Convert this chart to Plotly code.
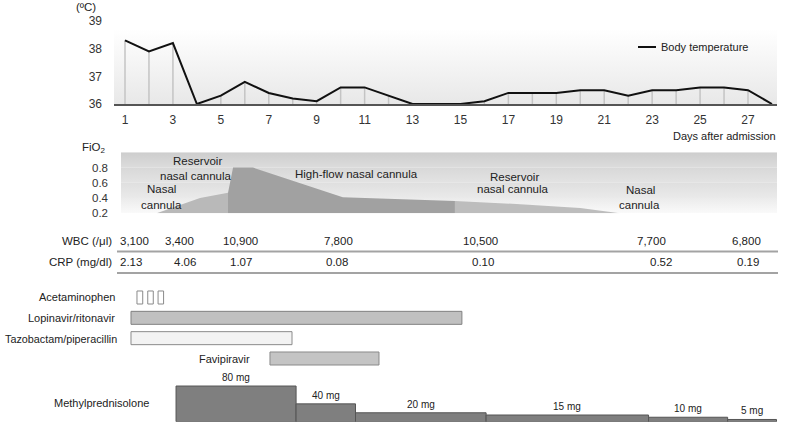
import plotly.graph_objects as go

W, H = 786, 423
FONT = "Liberation Sans, Arial, sans-serif"

# ---------------- data ----------------
days = list(range(1, 29))
temp = [38.3, 37.9, 38.2, 36.0, 36.3, 36.8, 36.4, 36.2, 36.1, 36.6, 36.6, 36.3, 36.0, 36.0,
        36.0, 36.1, 36.4, 36.4, 36.4, 36.5, 36.5, 36.3, 36.5, 36.5, 36.6, 36.6, 36.5, 36.0]
day_ticks = list(range(1, 28, 2))
temp_ticks = [36, 37, 38, 39]

# oxygen support: (day, FiO2) outlines
nasal_day = [2.32, 4.13, 5.30, 5.30]
nasal_fio2 = [0.20, 0.40, 0.47, 0.20]
hfnc_day = [5.30, 5.30, 5.51, 6.34, 10.09, 14.77, 14.77]
hfnc_fio2 = [0.20, 0.47, 0.80, 0.80, 0.41, 0.36, 0.20]
res_day = [14.77, 14.77, 17.5, 20.0, 21.65]
res_fio2 = [0.20, 0.36, 0.32, 0.27, 0.20]
fio2_ticks = [0.2, 0.4, 0.6, 0.8]

# labs
wbc_day = [1.40, 3.29, 5.80, 9.89, 15.85, 22.99, 26.92]
wbc = [3100, 3400, 10900, 7800, 10500, 7700, 6800]
crp_day = [1.23, 3.50, 5.84, 9.84, 15.94, 23.36, 26.98]
crp = [2.13, 4.06, 1.07, 0.08, 0.10, 0.52, 0.19]

# drugs (start day, end day)
acet_start = [1.50, 1.95, 2.38]
acet_end = [1.74, 2.18, 2.61]
lpv_start, lpv_end = [1.25], [15.06]
tazo_start, tazo_end = [1.25], [7.97]
favi_start, favi_end = [7.05], [11.60]
drug_names = ["Acetaminophen", "Lopinavir/ritonavir", "Tazobactam/piperacillin", "Favipiravir"]

# methylprednisolone steps
mp_start = [3.13, 8.14, 10.62, 16.07, 22.85, 26.15]
mp_end = [8.14, 10.62, 16.07, 22.85, 26.15, 28.19]
mp_dose = [80, 40, 20, 15, 10, 5]

# ---------------- geometry helpers ----------------
K = 623 / 26.0                      # pixels per day
def day_at(px):
    return 1 + (px - 125) / K
def xp(px):
    return px / W
def yp(py):
    return 1 - py / H

fig = go.Figure()

# ---- temperature panel background (gradient) ----
fig.add_trace(go.Scatter(
    x=[day_at(114), day_at(777), day_at(777), day_at(114), day_at(114)],
    y=[36, 36, 38.7, 38.7, 36], fill="toself", mode="none",
    fillgradient=dict(type="vertical", start=36, stop=38.7,
                      colorscale=[[0, "#e8e8e8"], [1, "#ffffff"]]),
    hoverinfo="skip", showlegend=False, xaxis="x", yaxis="y"))

# drop lines
dx, dy = [], []
for d, t in zip(days, temp):
    dx += [d, d, None]
    dy += [36, t, None]
fig.add_trace(go.Scatter(x=dx, y=dy, mode="lines", line=dict(color="#c4c4c4", width=1.5),
                         hoverinfo="skip", showlegend=False, xaxis="x", yaxis="y"))
fig.add_trace(go.Scatter(x=days, y=temp, mode="lines", name="Body temperature",
                         line=dict(color="#111111", width=2), showlegend=False,
                         xaxis="x", yaxis="y", cliponaxis=False))

# ---- FiO2 panel background bands ----
bands = [(0.8, 1.0, "#dcdcdc", "#cdcdcd"), (0.6, 0.8, "#e3e3e3", "#d8d8d8"),
         (0.4, 0.6, "#eaeaea", "#dfdfdf"), (0.2, 0.4, "#fafafa", "#ebebeb")]
x0b, x1b = day_at(121), day_at(777)
for lo, hi, cb, ct in bands:
    fig.add_trace(go.Scatter(
        x=[x0b, x1b, x1b, x0b, x0b], y=[lo, lo, hi, hi, lo], fill="toself", mode="none",
        fillgradient=dict(type="vertical", start=lo, stop=hi, colorscale=[[0, cb], [1, ct]]),
        hoverinfo="skip", showlegend=False, xaxis="x2", yaxis="y2"))

for xs, ys, col in [(nasal_day, nasal_fio2, "#b9b9b9"),
                    (hfnc_day, hfnc_fio2, "#a1a1a1"),
                    (res_day, res_fio2, "#bdbdbd")]:
    fig.add_trace(go.Scatter(x=xs + [xs[0]], y=ys + [ys[0]], fill="toself", mode="none",
                             fillcolor=col, hoverinfo="skip", showlegend=False,
                             xaxis="x2", yaxis="y2"))

# ---- drug bars ----
def hbar(starts, ends, row, fill, line):
    fig.add_trace(go.Bar(
        orientation="h", base=starts, x=[e - s for s, e in zip(starts, ends)],
        y=[row] * len(starts), width=0.64, marker=dict(color=fill, line=dict(color=line, width=1)),
        hoverinfo="skip", showlegend=False, xaxis="x2", yaxis="y3"))

hbar(acet_start, acet_end, 0, "#ffffff", "#8a8a8a")
hbar(lpv_start, lpv_end, 1, "#c0c0c0", "#808080")
hbar(tazo_start, tazo_end, 2, "#f3f3f3", "#8a8a8a")
hbar(favi_start, favi_end, 3, "#c4c4c4", "#8a8a8a")

# ---- methylprednisolone steps ----
fig.add_trace(go.Bar(
    x=[(s + e) / 2 for s, e in zip(mp_start, mp_end)], y=mp_dose,
    width=[e - s for s, e in zip(mp_start, mp_end)],
    marker=dict(color="#7f7f7f", line=dict(color="#555555", width=1)),
    hoverinfo="skip", showlegend=False, xaxis="x2", yaxis="y4"))

ann = []
for s, e, dose in zip(mp_start, mp_end, mp_dose):
    ann.append(dict(x=(s + e) / 2, y=dose, xref="x2", yref="y4", text=f"{dose} mg",
                    showarrow=False, yanchor="bottom", xanchor="center", yshift=1,
                    font=dict(size=10, color="#222", family=FONT)))

# labs text
for d, v in zip(wbc_day, wbc):
    ann.append(dict(x=d, y=yp(241), xref="x2", yref="paper", text=f"{v:,}", showarrow=False,
                    xanchor="center", yanchor="middle",
                    font=dict(size=11.5, color="#222", family=FONT)))
for d, v in zip(crp_day, crp):
    ann.append(dict(x=d, y=yp(262), xref="x2", yref="paper", text=f"{v:.2f}", showarrow=False,
                    xanchor="center", yanchor="middle",
                    font=dict(size=11.5, color="#222", family=FONT)))

def label(text, px, py, anchor="right", size=11.5):
    ann.append(dict(x=xp(px), y=yp(py), xref="paper", yref="paper", text=text, showarrow=False,
                    xanchor=anchor, yanchor="middle",
                    font=dict(size=size, color="#222", family=FONT)))

label("WBC (/μl)", 114, 241)
label("CRP (mg/dl)", 114, 262)
label(drug_names[0], 117, 297, size=11)
label(drug_names[1], 117, 318, size=11)
label(drug_names[2], 119, 338.5, size=10.8)
label(drug_names[3], 252, 358.5, size=11)
label("Methylprednisolone", 151, 403, size=11)
label("(ºC)", 98, 7)
label("FiO<sub>2</sub>", 108, 148)
label("Days after admission", 778, 136, size=11)
label("Body temperature", 659, 47, anchor="left", size=11)

# oxygen device labels
for txt, cx, cy in [("Reservoir", 197, 161), ("nasal cannula", 196, 175.5),
                    ("Nasal", 161, 189.5), ("cannula", 161, 205),
                    ("High-flow nasal cannula", 356, 174),
                    ("Reservoir", 514, 176.5), ("nasal cannula", 513, 189.5),
                    ("Nasal", 640, 190), ("cannula", 639, 204.5)]:
    label(txt, cx, cy, anchor="center", size=11.5)

shapes = [
    dict(type="line", xref="paper", yref="paper", x0=xp(638), x1=xp(656), y0=yp(47), y1=yp(47),
         line=dict(color="#111", width=2)),
    dict(type="line", xref="paper", yref="paper", x0=xp(117), x1=xp(778), y0=yp(251.5), y1=yp(251.5),
         line=dict(color="#a3a3a3", width=2)),
    dict(type="line", xref="paper", yref="paper", x0=xp(117), x1=xp(778), y0=yp(273), y1=yp(273),
         line=dict(color="#a3a3a3", width=2)),
]

fig.update_layout(
    width=W, height=H, margin=dict(l=0, r=0, t=0, b=0, pad=0, autoexpand=False),
    paper_bgcolor="white", plot_bgcolor="rgba(0,0,0,0)",
    barmode="overlay", showlegend=False, hovermode=False,
    font=dict(family=FONT, color="#222"),
    annotations=ann, shapes=shapes,
    xaxis=dict(domain=[xp(114), xp(777)], range=[day_at(114), day_at(777)], anchor="y",
               tickvals=day_ticks, ticks="", showgrid=False, zeroline=False, automargin=False,
               showline=True, linecolor="#555555", linewidth=1.5,
               tickfont=dict(size=12, color="#333"), ticklabelstandoff=4),
    yaxis=dict(domain=[yp(104), yp(21)], range=[36, 39], anchor="x", automargin=False,
               tickvals=temp_ticks, ticks="", showgrid=False, zeroline=False, showline=False,
               tickfont=dict(size=12, color="#333"), ticklabelstandoff=11),
    xaxis2=dict(domain=[0, 1], range=[day_at(0), day_at(786)], anchor="y2", visible=False,
                automargin=False),
    yaxis2=dict(domain=[yp(213.3), yp(152.3)], range=[0.2, 1.0], anchor="free", position=xp(121),
                tickvals=fio2_ticks, ticktext=[f"{v:.1f}" for v in fio2_ticks], ticks="",
                showgrid=False, zeroline=False, showline=False, automargin=False,
                tickfont=dict(size=11.5, color="#333"), ticklabelstandoff=13),
    yaxis3=dict(domain=[yp(370.7), yp(285.3)], range=[3.6, -0.6], anchor="x2", visible=False,
                automargin=False),
    yaxis4=dict(domain=[yp(421.7), yp(421.7 - 90 * 0.446)], range=[0, 90], anchor="x2",
                visible=False, automargin=False),
)

fig.write_html("out.html", config={"displayModeBar": False, "staticPlot": True},
               post_script="document.body.style.margin='0';document.body.style.overflow='hidden';")
